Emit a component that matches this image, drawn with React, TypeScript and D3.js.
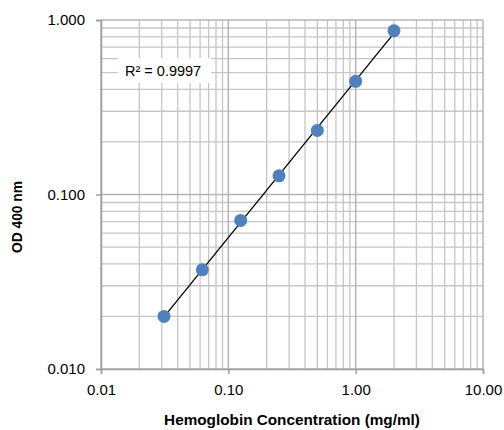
import React, { useEffect, useRef } from 'react';
import * as d3 from 'd3';

// standard curve: hemoglobin concentration (mg/ml) vs OD 400 nm
const concentrations = [0.03125, 0.0625, 0.125, 0.25, 0.5, 1, 2];
const odValues = [0.02, 0.037, 0.071, 0.128, 0.233, 0.445, 0.868];
const xTicks = [0.01, 0.1, 1, 10];
const yTicks = [0.01, 0.1, 1];
const rSquaredLabel = 'R² = 0.9997';

const App = () => {
    const chartRef = useRef<SVGSVGElement>(null);

    useEffect(() => {
        const svg = d3.select(chartRef.current);
        svg.selectAll('*').remove();

        const width = 504;
        const height = 430;
        const margin = { top: 20, right: 21, bottom: 61, left: 101 };
        const font = '"Liberation Sans", Arial, sans-serif';

        const x = d3.scaleLog().domain([0.01, 10]).range([margin.left, width - margin.right]);
        const y = d3.scaleLog().domain([0.01, 1]).range([height - margin.bottom, margin.top]);

        const [x0, x1] = x.range();
        const [y0, y1] = y.range();

        // minor gridlines (2..9 within each decade)
        const minor = (lo: number, hi: number) => {
            const out: number[] = [];
            for (let d = lo; d < hi; d *= 10) {
                for (let k = 2; k <= 9; k++) out.push(d * k);
            }
            return out;
        };

        const grid = svg.append('g');
        grid.selectAll('.vmin')
            .data(minor(0.01, 10))
            .enter()
            .append('line')
            .attr('x1', d => x(d)).attr('x2', d => x(d))
            .attr('y1', y1).attr('y2', y0)
            .attr('stroke', '#c6c6c6')
            .attr('stroke-width', 1.3);
        grid.selectAll('.hmin')
            .data(minor(0.01, 1))
            .enter()
            .append('line')
            .attr('y1', d => y(d)).attr('y2', d => y(d))
            .attr('x1', x0).attr('x2', x1)
            .attr('stroke', '#c6c6c6')
            .attr('stroke-width', 1.3);

        // major gridlines
        grid.selectAll('.vmaj')
            .data(xTicks)
            .enter()
            .append('line')
            .attr('x1', d => x(d)).attr('x2', d => x(d))
            .attr('y1', y1).attr('y2', y0)
            .attr('stroke', '#b4b4b4')
            .attr('stroke-width', 1.5);
        grid.selectAll('.hmaj')
            .data(yTicks)
            .enter()
            .append('line')
            .attr('y1', d => y(d)).attr('y2', d => y(d))
            .attr('x1', x0).attr('x2', x1)
            .attr('stroke', '#b4b4b4')
            .attr('stroke-width', 1.5);

        // axes
        const xAxis = svg.append('g')
            .attr('transform', `translate(0,${y0})`)
            .call(d3.axisBottom(x).tickValues(xTicks).tickSize(5).tickPadding(10)
                .tickFormat(d => d3.format('.2f')(d as number)));
        const yAxis = svg.append('g')
            .attr('transform', `translate(${x0},0)`)
            .call(d3.axisLeft(y).tickValues(yTicks).tickSize(5).tickPadding(11)
                .tickFormat(d => d3.format('.3f')(d as number)));

        [xAxis, yAxis].forEach(a => {
            a.select('.domain').attr('stroke', '#9e9e9e').attr('stroke-width', 1.5);
            a.selectAll('.tick line').attr('stroke', '#9e9e9e').attr('stroke-width', 1.5);
            a.selectAll('.tick text')
                .attr('font-family', font)
                .attr('font-size', 15)
                .attr('fill', '#000');
        });

        // power trendline fit in log-log space
        const lx = concentrations.map(Math.log10);
        const ly = odValues.map(Math.log10);
        const mx = d3.mean(lx) as number;
        const my = d3.mean(ly) as number;
        const slope = d3.sum(lx, (v, i) => (v - mx) * (ly[i] - my)) / d3.sum(lx, v => (v - mx) ** 2);
        const intercept = my - slope * mx;
        const fit = (c: number) => Math.pow(10, intercept + slope * Math.log10(c));
        const xs = d3.extent(concentrations) as [number, number];

        svg.append('path')
            .datum(xs)
            .attr('fill', 'none')
            .attr('stroke', '#000')
            .attr('stroke-width', 1.3)
            .attr('d', d3.line<number>().x(d => x(d)).y(d => y(fit(d))));

        // data points
        svg.selectAll('.pt')
            .data(concentrations)
            .enter()
            .append('circle')
            .attr('cx', d => x(d))
            .attr('cy', (d, i) => y(odValues[i]))
            .attr('r', 6.5)
            .attr('fill', '#4f81bd');

        // R² label
        svg.append('rect')
            .attr('x', 118).attr('y', 58)
            .attr('width', 93).attr('height', 25)
            .attr('fill', '#fff');
        svg.append('text')
            .attr('x', 125).attr('y', 75.5)
            .attr('font-family', font)
            .attr('font-size', 14.5)
            .text(rSquaredLabel);

        // axis titles
        svg.append('text')
            .attr('x', (x0 + x1) / 2)
            .attr('y', 425)
            .attr('text-anchor', 'middle')
            .attr('font-family', font)
            .attr('font-weight', 'bold')
            .attr('font-size', 15.3)
            .text('Hemoglobin Concentration (mg/ml)');
        svg.append('text')
            .attr('transform', 'translate(22,217) rotate(-90)')
            .attr('text-anchor', 'middle')
            .attr('font-family', font)
            .attr('font-weight', 'bold')
            .attr('font-size', 13.8)
            .text('OD 400 nm');
    }, []);

    return (
        <svg
            ref={chartRef}
            width={504}
            height={430}
            style={{ position: 'absolute', left: 0, top: 0, background: '#fff' }}
        />
    );
};

export default App;
